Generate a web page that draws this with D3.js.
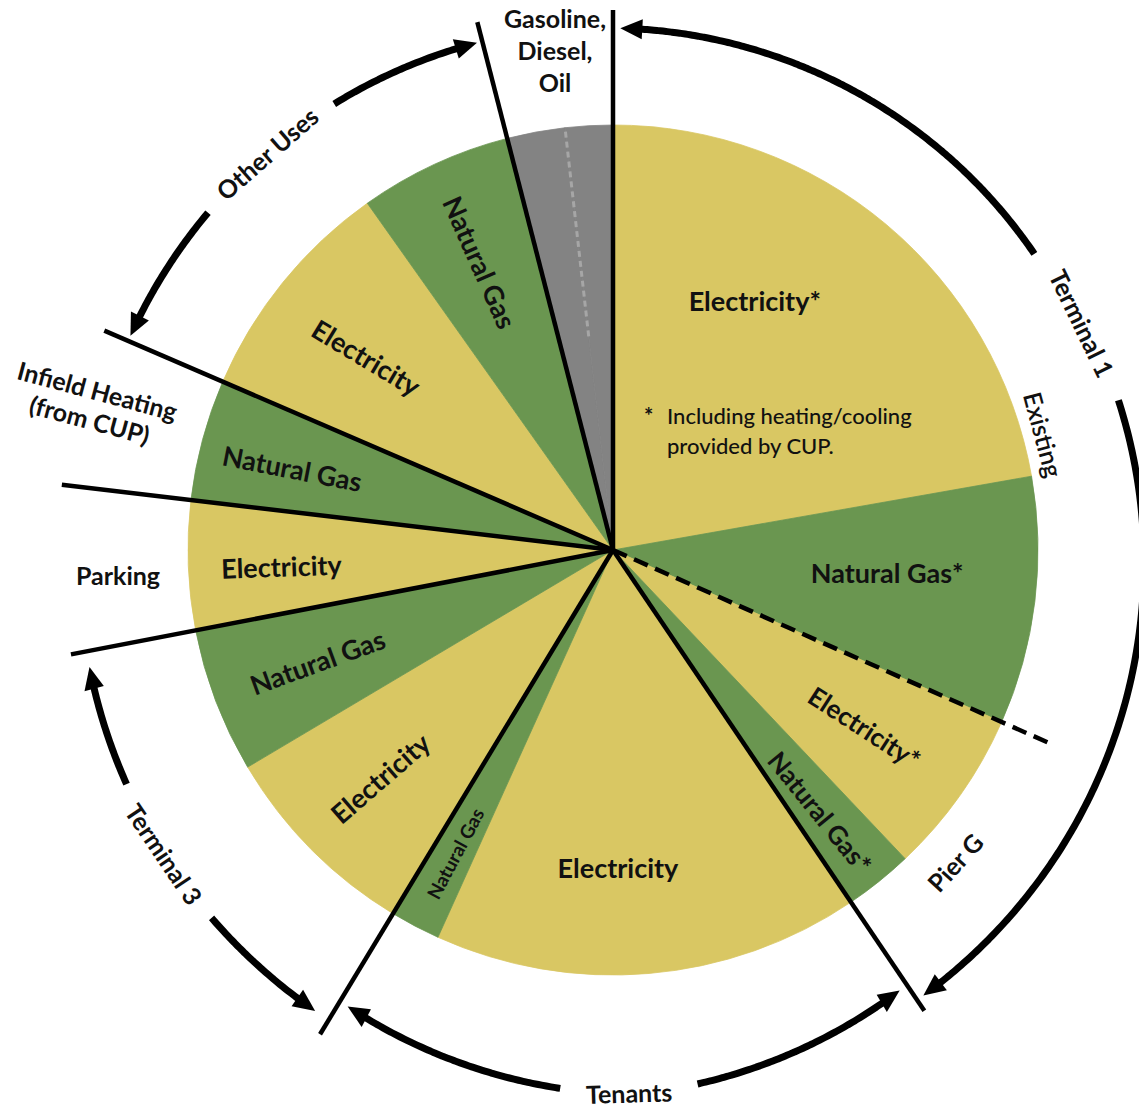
<!DOCTYPE html>
<html>
<head>
<meta charset="utf-8">
<script src="https://cdn.jsdelivr.net/npm/d3@7"></script>
<style>
  body { margin: 0; background: #fff; }
  svg { display: block; }
  text { font-family: Lato, "Open Sans", sans-serif; fill: #111; }
</style>
</head>
<body>
<svg id="chart" width="1139" height="1109"></svg>
<script>
// ---- Data: share of airport energy use by area and fuel (%) ----
const sliceArea = ["Terminal 1", "Terminal 1", "Pier G", "Pier G", "Tenants", "Tenants",
  "Terminal 3", "Terminal 3", "Parking", "Infield Heating", "Other Uses", "Other Uses",
  "Fuels", "Fuels"];
const sliceFuel = ["electricity", "gas", "electricity", "gas", "electricity", "gas",
  "electricity", "gas", "electricity", "gas", "electricity", "gas", "petroleum", "petroleum"];
const sliceLabels = ["Electricity*", "Natural Gas*", "Electricity*", "Natural Gas*",
  "Electricity", "Natural Gas", "Electricity", "Natural Gas", "Electricity", "Natural Gas",
  "Electricity", "Natural Gas", "", ""];
const sliceShares = [22.2, 9.4, 6.3, 2.6, 16.2, 1.9, 7.8, 5.5, 4.9, 4.6, 8.7, 5.8, 2.2, 1.8];

// Bracketed groups drawn as curved double arrows round the pie
const bracketNames = ["Terminal 1", "Tenants", "Terminal 3", "Other Uses"];
const bracketMembers = [["Terminal 1", "Pier G"], ["Tenants"], ["Terminal 3"], ["Other Uses"]];

// ---- Layout ----
const W = 1139, H = 1109;
const cx = 613, cy = 550, R = 425;
const fuelColor = { electricity: "#D9C763", gas: "#6A9650", petroleum: "#838383" };

// polar positions of slice labels: [angle deg, radius, rotation deg, font size]
const sliceLabelPos = [
  [29.6, 287, 0, 27], [94.6, 275, 0, 27], [125.2, 308, 33, 26], [141.7, 334, 51, 26],
  [179.1, 318, 0, 27], [207.5, 342, -62, 19], [225.6, 326, -41, 27], [249.3, 316, -20, 27],
  [267.2, 332, -2, 27], [284.3, 331, 11, 27], [308, 313, 31, 27], [335.2, 317, 66, 27]
];
// length of each area divider line from the centre
const dividerLength = { "Terminal 1": 540, "Pier G": 478, "Tenants": 556, "Terminal 3": 566,
  "Parking": 552, "Infield Heating": 555, "Other Uses": 554, "Fuels": 545 };
// bracket radius knots [angle deg, radius] and the gap left for the name
const bracketKnots = [
  [[0, 522], [55, 515], [73, 527], [145, 543]],
  [[146, 525], [178, 545], [212, 527]],
  [[212, 549], [236, 542], [259, 536]],
  [[293, 528], [346, 525]]
];
const bracketGap = [[54.9, 73.5], [171, 185.6], [227.5, 244.3], [309.8, 328]];
const bracketPad = [0.8, 1.0, 1.7, 0.6];
const bracketLabelShift = [0, -2, 0, 0];
const outerSize = 25;

const rad = d => d * Math.PI / 180;
const deg = r => r * 180 / Math.PI;
const polar = (a, r) => [cx + r * Math.sin(rad(a)), cy - r * Math.cos(rad(a))];

const svg = d3.select("#chart");
const g = svg.append("g");

// ---- Pie ----
const slices = sliceShares.map((v, i) => ({
  value: v, area: sliceArea[i], fuel: sliceFuel[i], label: sliceLabels[i], idx: i
}));
const pie = d3.pie().sort(null).value(d => d.value);
const arcs = pie(slices);
const arcGen = d3.arc().innerRadius(0).outerRadius(R);

g.append("g").attr("transform", `translate(${cx},${cy})`)
  .selectAll("path").data(arcs).join("path")
  .attr("d", arcGen)
  .attr("fill", d => fuelColor[d.data.fuel])
  .attr("stroke", d => fuelColor[d.data.fuel])
  .attr("stroke-width", 0.8);

// faint divider inside the fuels slice
const fuelSplit = deg(arcs[13].startAngle);
const fs0 = polar(fuelSplit, 215), fs1 = polar(fuelSplit, R - 2);
g.append("line")
  .attr("x1", fs0[0]).attr("y1", fs0[1]).attr("x2", fs1[0]).attr("y2", fs1[1])
  .attr("stroke", "#a6a6a6").attr("stroke-width", 3).attr("stroke-dasharray", "6 4");

// ---- Slice labels ----
arcs.forEach((d, i) => {
  if (!d.data.label) return;
  const [a, r, rot, fsz] = sliceLabelPos[i];
  const [x, y] = polar(a, r);
  g.append("text")
    .attr("transform", `translate(${x},${y}) rotate(${rot})`)
    .attr("text-anchor", "middle").attr("dominant-baseline", "central")
    .attr("font-weight", 700).attr("font-size", fsz)
    .text(d.data.label);
});

// footnote inside the Terminal 1 electricity slice
const note = g.append("text").attr("font-size", 22).attr("font-weight", 500);
note.append("tspan").attr("x", 644).attr("y", 424).attr("font-weight", 700).text("*");
note.append("tspan").attr("x", 667).attr("y", 424).text("Including heating/cooling");
note.append("tspan").attr("x", 667).attr("y", 454).text("provided by CUP.");

// ---- Area divider lines ----
const areaStarts = [];
arcs.forEach((d, i) => {
  if (i === 0 || d.data.area !== arcs[i - 1].data.area) areaStarts.push({ area: d.data.area, angle: deg(d.startAngle) });
});
areaStarts.forEach(s => {
  const [x, y] = polar(s.angle, dividerLength[s.area]);
  g.append("line")
    .attr("x1", cx).attr("y1", cy).attr("x2", x).attr("y2", y)
    .attr("stroke", "#000").attr("stroke-width", 4.5)
    .attr("stroke-dasharray", s.area === "Pier G" ? "15 8" : null);
});

// ---- Bracket arrows ----
const groupSpan = names => {
  const sel = arcs.filter(d => names.includes(d.data.area));
  return [deg(d3.min(sel, d => d.startAngle)), deg(d3.max(sel, d => d.endAngle))];
};
const headLen = 22, headW = 20, lineW = 7;

bracketNames.forEach((name, k) => {
  const [a0, a1] = groupSpan(bracketMembers[k]);
  const s = a0 + bracketPad[k], e = a1 - bracketPad[k];
  const knots = bracketKnots[k];
  const rScale = d3.scaleLinear().domain(knots.map(d => d[0])).range(knots.map(d => d[1]));
  const line = d3.lineRadial().angle(a => rad(a)).radius(a => rScale(a)).curve(d3.curveCatmullRom);
  const trim0 = deg(headLen * 0.7 / rScale(s)), trim1 = deg(headLen * 0.7 / rScale(e));
  const [gs, ge] = bracketGap[k];
  const seg = (from, to) => d3.range(from, to, 0.5).concat([to]);
  const grp = g.append("g").attr("transform", `translate(${cx},${cy})`);
  [[s + trim0, gs], [ge, e - trim1]].forEach(([f, t]) => {
    grp.append("path").attr("d", line(seg(f, t)))
      .attr("fill", "none").attr("stroke", "#000").attr("stroke-width", lineW);
  });
  // arrow heads at both ends, pointing along the arc
  [[s, -1], [e, 1]].forEach(([a, dir]) => {
    const r = rScale(a);
    const tip = [r * Math.sin(rad(a)), -r * Math.cos(rad(a))];
    const back = a - dir * deg(headLen / r);
    const rb = rScale(back);
    const base = [rb * Math.sin(rad(back)), -rb * Math.cos(rad(back))];
    const nx = Math.sin(rad(back)), ny = -Math.cos(rad(back));
    const pts = [tip, [base[0] + nx * headW / 2, base[1] + ny * headW / 2],
      [base[0] - nx * headW / 2, base[1] - ny * headW / 2]];
    grp.append("path").attr("d", "M" + pts.map(p => p.join(",")).join("L") + "Z").attr("fill", "#000");
  });
  // name centred in the gap
  const am = (gs + ge) / 2;
  const [x, y] = polar(am, rScale(am) + bracketLabelShift[k]);
  const rot = (am > 90 && am < 270) ? am - 180 : am;
  g.append("text")
    .attr("transform", `translate(${x},${y}) rotate(${rot})`)
    .attr("text-anchor", "middle").attr("dominant-baseline", "central")
    .attr("font-weight", 700).attr("font-size", outerSize)
    .text(name);
});

// ---- Outer area names ----
const outerText = (lines, x, y, rot, size, lh, anchor) => {
  const t = g.append("text")
    .attr("transform", `translate(${x},${y}) rotate(${rot})`)
    .attr("text-anchor", anchor || "middle").attr("font-weight", 700).attr("font-size", size);
  lines.forEach((l, i) => t.append("tspan").attr("x", 0).attr("dy", i === 0 ? 0 : lh).text(l));
};
outerText(["Gasoline,", "Diesel,", "Oil"], 555, 28, 0, outerSize, 32);
outerText(["Parking"], 118, 585, 0, outerSize, 0);
outerText(["Infield Heating", "(from CUP)"], 95, 400, 15, outerSize, 30);

const ex = polar(75, 446);
g.append("text").attr("transform", `translate(${ex[0]},${ex[1]}) rotate(75)`)
  .attr("text-anchor", "middle").attr("dominant-baseline", "central")
  .attr("font-weight", 600).attr("font-size", outerSize).text("Existing");
const pg = polar(132.4, 463);
g.append("text").attr("transform", `translate(${pg[0]},${pg[1]}) rotate(-47.6)`)
  .attr("text-anchor", "middle").attr("dominant-baseline", "central")
  .attr("font-weight", 700).attr("font-size", outerSize).text("Pier G");
</script>
</body>
</html>
